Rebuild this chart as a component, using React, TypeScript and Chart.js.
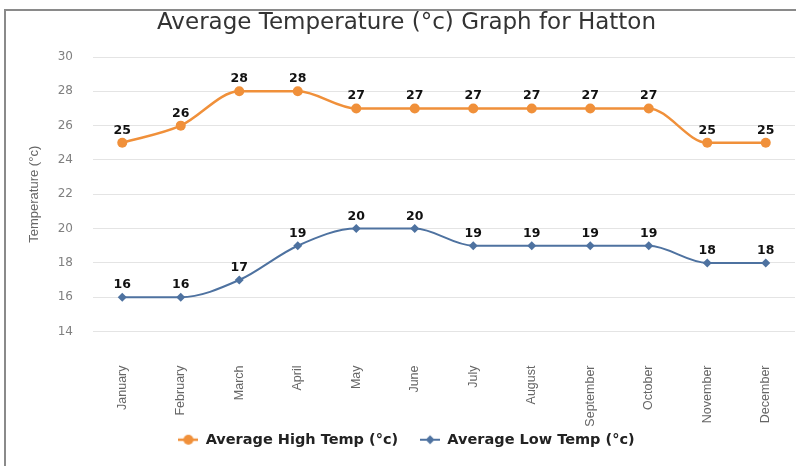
import React, { useEffect, useRef } from "react";
import { Chart, registerables } from "chart.js";

Chart.register(...registerables);

const months = [
  "January", "February", "March", "April", "May", "June",
  "July", "August", "September", "October", "November", "December",
];
const highTemps = [25, 26, 28, 28, 27, 27, 27, 27, 27, 27, 25, 25];
const lowTemps = [16, 16, 17, 19, 20, 20, 19, 19, 19, 19, 18, 18];
const yTicks = [14, 16, 18, 20, 22, 24, 26, 28, 30];

const ORANGE = "#F0903A";
const BLUE = "#4E72A0";
const NARROW = "'Liberation Sans Narrow', 'Liberation Sans', Arial, sans-serif";
const WIDE = "'DejaVu Sans', Verdana, sans-serif";

const LEFT_PAD = 18;
const PLOT_LEFT = 93;
const X_AXIS_HEIGHT = 79;

// Small line-with-marker swatch used as the legend symbol
function legendSwatch(color: string, marker: "circle" | "diamond", lineW: number): HTMLCanvasElement {
  const c = document.createElement("canvas");
  c.width = 20;
  c.height = 12;
  const ctx = c.getContext("2d")!;
  ctx.strokeStyle = color;
  ctx.lineWidth = lineW;
  ctx.beginPath();
  ctx.moveTo(0, 6);
  ctx.lineTo(20, 6);
  ctx.stroke();
  ctx.fillStyle = color;
  ctx.beginPath();
  if (marker === "circle") {
    ctx.arc(10, 6, 5, 0, Math.PI * 2);
  } else {
    ctx.moveTo(10, 1.5);
    ctx.lineTo(14.5, 6);
    ctx.lineTo(10, 10.5);
    ctx.lineTo(5.5, 6);
    ctx.closePath();
  }
  ctx.fill();
  return c;
}

// Writes each point's value above it
const valueLabels = {
  id: "valueLabels",
  afterDatasetsDraw(chart: any) {
    const ctx = chart.ctx;
    ctx.save();
    ctx.font = `bold 12.5px ${WIDE}`;
    ctx.fillStyle = "#111";
    ctx.textAlign = "center";
    ctx.textBaseline = "bottom";
    chart.data.datasets.forEach((ds: any, i: number) => {
      const meta = chart.getDatasetMeta(i);
      meta.data.forEach((pt: any, j: number) => {
        ctx.fillText(String(ds.data[j]), pt.x, pt.y - 6);
      });
    });
    ctx.restore();
  },
};

export default function App() {
  const canvasRef = useRef<HTMLCanvasElement | null>(null);

  useEffect(() => {
    const canvas = canvasRef.current;
    if (!canvas) return;
    const swatches = [legendSwatch(ORANGE, "circle", 2.5), legendSwatch(BLUE, "diamond", 2)];
    const chart = new Chart(canvas, {
      type: "line",
      data: {
        labels: months,
        datasets: [
          {
            label: "Average High Temp (°c)",
            data: highTemps,
            borderColor: ORANGE,
            backgroundColor: ORANGE,
            borderWidth: 2.5,
            pointStyle: "circle",
            pointRadius: 5,
            pointBorderWidth: 0,
            cubicInterpolationMode: "monotone",
          },
          {
            label: "Average Low Temp (°c)",
            data: lowTemps,
            borderColor: BLUE,
            backgroundColor: BLUE,
            borderWidth: 2,
            pointStyle: "rectRot",
            pointRadius: 4.5,
            pointBorderWidth: 0,
            cubicInterpolationMode: "monotone",
          },
        ],
      },
      options: {
        responsive: false,
        animation: false,
        layout: { padding: { left: LEFT_PAD, right: 8, top: 0, bottom: 9 } },
        plugins: {
          title: {
            display: true,
            text: "Average Temperature (°c) Graph for Hatton",
            color: "#333",
            font: { family: WIDE, size: 23, weight: "normal" },
            padding: { top: 9, bottom: 20.4 },
          },
          legend: {
            position: "bottom",
            labels: {
              usePointStyle: true,
              pointStyleWidth: 20,
              color: "#222",
              font: { family: WIDE, size: 14.5, weight: "bold" },
              padding: 22,
              generateLabels(ch: any) {
                const items = Chart.defaults.plugins.legend.labels.generateLabels(ch);
                items.forEach((it: any, k: number) => {
                  it.pointStyle = swatches[k];
                });
                return items;
              },
            },
          },
          tooltip: { enabled: false },
        },
        scales: {
          x: {
            offset: true,
            grid: { display: false, drawTicks: false },
            border: { display: false },
            ticks: {
              color: "#666",
              font: { family: NARROW, size: 12.5 },
              minRotation: 90,
              maxRotation: 90,
              padding: 34,
            },
            afterFit(scale: any) {
              scale.height = X_AXIS_HEIGHT;
              scale.paddingLeft = 0;
              scale.paddingRight = 0;
              // month names run past the axis box into the legend gap
              scale._computeLabelArea = () => undefined;
            },
          },
          y: {
            min: 14,
            max: 30,
            afterBuildTicks(scale: any) {
              scale.ticks = yTicks.map((v) => ({ value: v }));
            },
            afterFit(scale: any) {
              scale.width = PLOT_LEFT - LEFT_PAD;
            },
            grid: { color: "#e4e4e4", drawTicks: false },
            border: { display: false },
            ticks: {
              color: "#808080",
              font: { family: WIDE, size: 12 },
              padding: 20,
            },
            title: {
              display: true,
              text: "Temperature (°c)",
              color: "#666",
              font: { family: NARROW, size: 13 },
              padding: { top: 9, bottom: 0 },
            },
          },
        },
      },
      plugins: [valueLabels],
    });
    return () => chart.destroy();
  }, []);

  return (
    <div style={{ position: "absolute", left: 0, top: 0, width: 803, height: 466, background: "#fff" }}>
      <div
        style={{
          position: "absolute",
          left: 4,
          top: 9,
          width: 792,
          height: 457,
          borderTop: "2px solid #8a8a8a",
          borderLeft: "2px solid #8a8a8a",
          boxSizing: "border-box",
        }}
      />
      <canvas ref={canvasRef} width={803} height={466} style={{ position: "absolute", left: 0, top: 0 }} />
    </div>
  );
}
